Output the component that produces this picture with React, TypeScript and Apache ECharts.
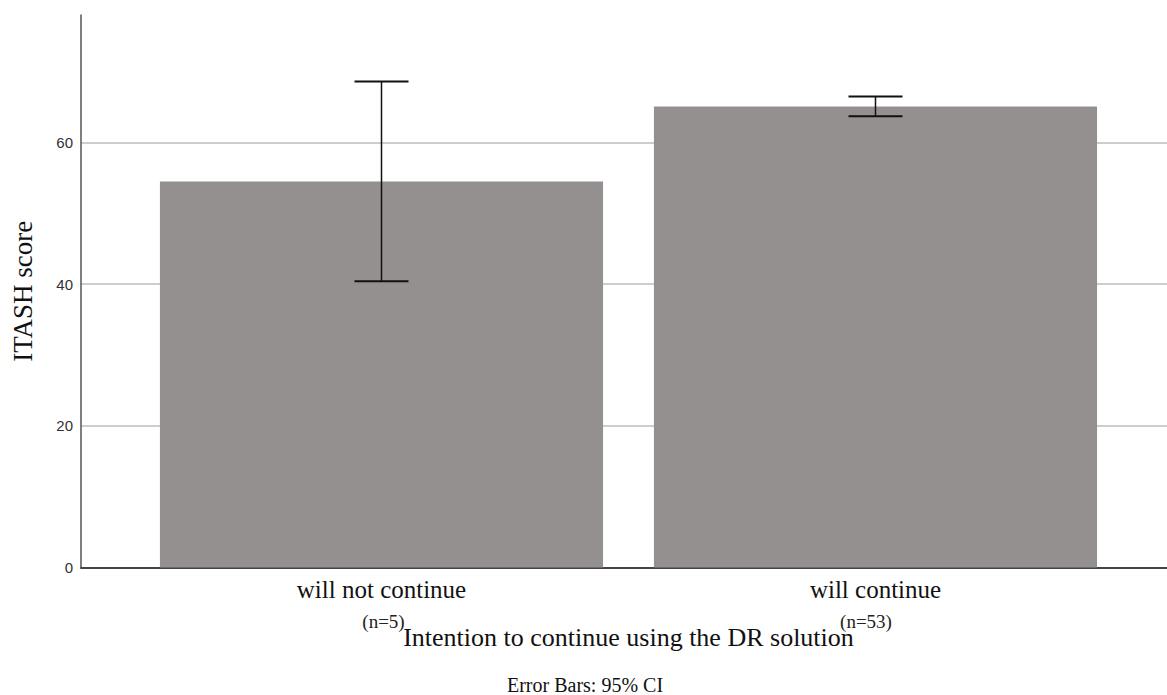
import React, { useEffect, useRef } from "react";
import * as echarts from "echarts";

const categories = ["will not continue", "will continue"];
const sampleSizes = ["(n=5)", "(n=53)"];
const meanScores = [54.5, 65.1];
const ciLower = [40.4, 63.7];
const ciUpper = [68.6, 66.5];
const yTicks = [0, 20, 40, 60];
const yAxisTitle = "ITASH score";
const xAxisTitle = "Intention to continue using the DR solution";
const footnote = "Error Bars: 95% CI";

const Y_MAX = 78;
const SERIF = "'Liberation Serif', 'Times New Roman', serif";
const SANS = "'Liberation Sans', Arial, sans-serif";

export default function App() {
  const ref = useRef<HTMLDivElement>(null);

  useEffect(() => {
    if (!ref.current) return;
    const chart = echarts.init(ref.current, undefined, { renderer: "svg" });
    const top = 15;
    const bottom = 127.5;

    const errData = categories.map((_, i) => [i, ciLower[i], ciUpper[i]]);

    chart.setOption({
      animation: false,
      backgroundColor: "#ffffff",
      grid: [
        { left: 81, right: 0, top, bottom, containLabel: false, outerBoundsMode: "none" },
        { left: 134.5, right: 44.5, top, bottom, containLabel: false, outerBoundsMode: "none" },
      ],
      xAxis: [
        {
          type: "category",
          gridIndex: 0,
          data: [""],
          axisLine: { show: true, onZero: false, lineStyle: { color: "#444", width: 2 } },
          axisTick: { show: false },
          axisLabel: { show: false },
        },
        {
          type: "category",
          gridIndex: 1,
          data: categories,
          axisLine: { show: false },
          axisTick: { show: false },
          name: xAxisTitle,
          nameLocation: "middle",
          nameGap: 57,
          nameMoveOverlap: false,
          nameTextStyle: { fontFamily: SERIF, fontSize: 26, color: "#111" },
          axisLabel: {
            margin: 7,
            interval: 0,
            formatter: (v: string, i: number) =>
              `{a|${v}}\n{${i === 0 ? "b" : "c"}|${sampleSizes[i]}}`,
            rich: {
              a: { fontFamily: SERIF, fontSize: 25, lineHeight: 30, color: "#111" },
              b: { fontFamily: SERIF, fontSize: 19, lineHeight: 34, color: "#222", padding: [0, 0, 0, 4] },
              c: { fontFamily: SERIF, fontSize: 19, lineHeight: 34, color: "#222", padding: [0, 19, 0, 0] },
            },
          },
        },
      ],
      yAxis: [
        {
          type: "value",
          gridIndex: 0,
          min: 0,
          max: Y_MAX,
          interval: 20,
          name: yAxisTitle,
          nameLocation: "middle",
          nameRotate: 90,
          nameGap: 45,
          nameMoveOverlap: false,
          nameTextStyle: { fontFamily: SERIF, fontSize: 27, color: "#111" },
          axisLine: { show: true, lineStyle: { color: "#555", width: 1.5 } },
          axisTick: { show: false },
          axisLabel: {
            margin: 8,
            fontFamily: SANS,
            fontSize: 15,
            color: "#333",
            formatter: (v: number) => (yTicks.includes(v) ? String(v) : ""),
          },
          splitLine: {
            show: true,
            lineStyle: {
              color: ["#bdbdbd", "#bdbdbd", "#bdbdbd", "#bdbdbd", "rgba(0,0,0,0)"],
              width: 1.5,
            },
          },
        },
        {
          type: "value",
          gridIndex: 1,
          min: 0,
          max: Y_MAX,
          interval: 20,
          show: false,
          splitLine: { show: false },
        },
      ],
      series: [
        {
          type: "bar",
          xAxisIndex: 1,
          yAxisIndex: 1,
          data: meanScores,
          barCategoryGap: "10.3%",
          itemStyle: { color: "#94908f" },
          z: 2,
        },
        {
          type: "custom",
          xAxisIndex: 1,
          yAxisIndex: 1,
          data: errData,
          encode: { x: 0, y: [1, 2] },
          z: 5,
          renderItem: (params: any, api: any) => {
            const lo = api.coord([api.value(0), api.value(1)]);
            const hi = api.coord([api.value(0), api.value(2)]);
            const half = 27;
            const style = { stroke: "#111", lineWidth: 2 };
            return {
              type: "group",
              children: [
                { type: "line", shape: { x1: lo[0], y1: lo[1], x2: hi[0], y2: hi[1] }, style: { stroke: "#111", lineWidth: 1.5 } },
                { type: "line", shape: { x1: lo[0] - half, y1: lo[1], x2: lo[0] + half, y2: lo[1] }, style },
                { type: "line", shape: { x1: hi[0] - half, y1: hi[1], x2: hi[0] + half, y2: hi[1] }, style },
              ],
            };
          },
        },
      ],
      graphic: [
        {
          type: "text",
          x: 585,
          y: 685,
          style: {
            text: footnote,
            fontFamily: SERIF,
            fontSize: 20,
            fill: "#111",
            align: "center",
            verticalAlign: "middle",
          },
        },
      ],
    });

    return () => chart.dispose();
  }, []);

  return (
    <div
      ref={ref}
      style={{ position: "fixed", left: 0, top: 0, width: 1167, height: 695, background: "#fff" }}
    />
  );
}
